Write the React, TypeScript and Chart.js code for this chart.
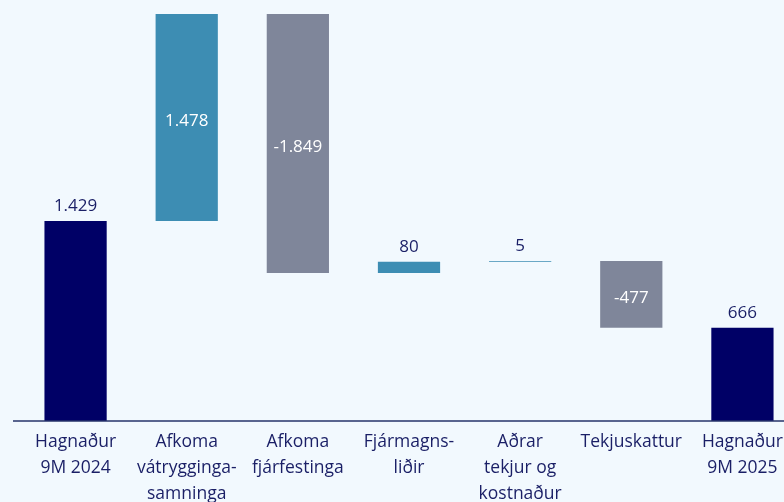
import React, { useEffect, useRef } from "react";
import { Chart, registerables } from "chart.js";

Chart.register(...registerables);

const categories: string[][] = [
  ["Hagnaður", "9M 2024"],
  ["Afkoma", "vátrygginga-", "samninga"],
  ["Afkoma", "fjárfestinga"],
  ["Fjármagns-", "liðir"],
  ["Aðrar", "tekjur og", "kostnaður"],
  ["Tekjuskattur"],
  ["Hagnaður", "9M 2025"],
];

// change values (totals at first and last position)
const values: number[] = [1429, 1478, -1849, 80, 5, -477, 666];
const isTotal: boolean[] = [true, false, false, false, false, false, true];
const valueLabels: string[] = ["1.429", "1.478", "-1.849", "80", "5", "-477", "666"];

const NAVY = "#000066";
const TEAL = "#3d8db3";
const GRAY = "#7f869a";
const TEXT = "#1a1f66";
const BG = "#f2f9fe";
const FONT = "'Open Sans', sans-serif";

function buildRanges(): [number, number][] {
  const out: [number, number][] = [];
  let run = 0;
  values.forEach((v, i) => {
    if (isTotal[i]) {
      out.push([0, v]);
      run = v;
    } else {
      const next = run + v;
      out.push([Math.min(run, next), Math.max(run, next)]);
      run = next;
    }
  });
  return out;
}

export default function App() {
  const ref = useRef<HTMLCanvasElement | null>(null);

  useEffect(() => {
    document.body.style.margin = "0";
    document.body.style.overflow = "hidden";
    document.body.style.background = BG;
    const canvas = ref.current;
    if (!canvas) return;
    const ranges = buildRanges();
    const colors = values.map((v, i) => (isTotal[i] ? NAVY : v >= 0 ? TEAL : GRAY));

    const labelPlugin = {
      id: "wfLabels",
      afterDatasetsDraw(chart: any) {
        const ctx = chart.ctx;
        const meta = chart.getDatasetMeta(0);
        const y = chart.scales.y;
        const area = chart.chartArea;
        ctx.save();
        // baseline
        const by = y.getPixelForValue(0);
        ctx.strokeStyle = "#26336a";
        ctx.lineWidth = 1.5;
        ctx.beginPath();
        ctx.moveTo(area.left - 7, by);
        ctx.lineTo(chart.width, by);
        ctx.stroke();

        ctx.font = `17px ${FONT}`;
        ctx.textAlign = "center";
        ctx.textBaseline = "middle";
        meta.data.forEach((bar: any, i: number) => {
          const r = ranges[i];
          const top = y.getPixelForValue(r[1]);
          const bottom = y.getPixelForValue(r[0]);
          const h = bottom - top;
          if (!isTotal[i] && h > 40) {
            ctx.fillStyle = "#ffffff";
            ctx.fillText(valueLabels[i], bar.x, (top + bottom) / 2 + 3.5);
          } else {
            ctx.fillStyle = TEXT;
            ctx.fillText(valueLabels[i], bar.x, top - 15);
          }
        });
        ctx.restore();
      },
    };

    const chart = new Chart(canvas, {
      type: "bar",
      data: {
        labels: categories,
        datasets: [
          {
            data: ranges as any,
            backgroundColor: colors,
            borderWidth: 0,
            categoryPercentage: 1,
            barPercentage: 0.56,
            borderSkipped: false,
          },
        ],
      },
      options: {
        responsive: false,
        animation: false,
        devicePixelRatio: 1,
        layout: { padding: { left: 20, right: 0, top: 1, bottom: 0 } },
        plugins: {
          legend: { display: false },
          tooltip: { enabled: false },
        },
        scales: {
          x: {
            grid: { display: false },
            border: { display: false },
            ticks: {
              color: TEXT,
              font: { family: FONT, size: 17.5, lineHeight: 1.49 },
              maxRotation: 0,
              autoSkip: false,
              padding: 0,
            },
            afterFit: (scale: any) => {
              scale.height = 81;
            },
          },
          y: {
            display: false,
            min: 0,
            max: 3000,
          },
        },
      },
      plugins: [labelPlugin],
    });
    return () => chart.destroy();
  }, []);

  return (
    <div style={{ position: "fixed", left: 0, top: 0, width: 798, height: 502, background: BG }}>
      <canvas ref={ref} width={798} height={502} />
    </div>
  );
}
